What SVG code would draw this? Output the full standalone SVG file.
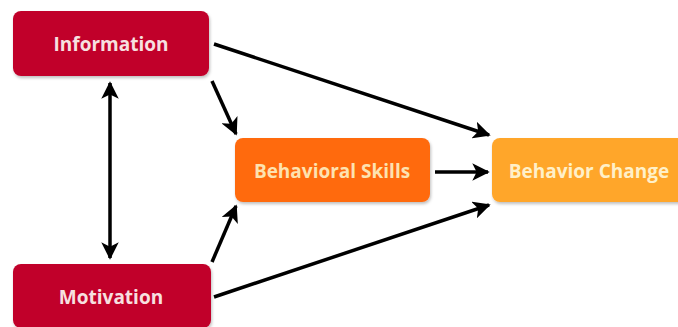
<svg xmlns="http://www.w3.org/2000/svg" width="678" height="327" viewBox="0 0 678 327">
<defs>
<marker id="ah" viewBox="0 0 10 10" refX="9" refY="5" markerWidth="5" markerHeight="5" orient="auto-start-reverse" markerUnits="strokeWidth">
<path d="M0,0 L10,5 L0,10 L2.5,5 z" fill="#000"/>
</marker>
<filter id="sh" x="-10%" y="-10%" width="120%" height="130%">
<feDropShadow dx="1" dy="2" stdDeviation="1.5" flood-color="#000" flood-opacity="0.25"/>
</filter>
</defs>
<style>
.box{filter:url(#sh)}
.t{font-family:"Open Sans","DejaVu Sans",sans-serif;font-weight:bold;font-size:19px;text-anchor:middle;dominant-baseline:central}
.c{stroke:#000;stroke-width:3.5;fill:none;marker-end:url(#ah)}
</style>
<rect width="678" height="327" fill="#fff"/>
<g id="information">
<rect class="box" x="13" y="11" width="196" height="65" rx="8" fill="#c1002a"/>
<text class="t" x="111" y="44" fill="#f7e0e0">Information</text>
</g>
<g id="motivation">
<rect class="box" x="13" y="264" width="198" height="64" rx="8" fill="#c1002a"/>
<text class="t" x="111" y="297" fill="#f7e0e0">Motivation</text>
</g>
<g id="behavioral-skills">
<rect class="box" x="235" y="138" width="195" height="64" rx="8" fill="#ff6a10"/>
<text class="t" x="332" y="171" fill="#fde2b0">Behavioral Skills</text>
</g>
<g id="behavior-change">
<rect class="box" x="492" y="138" width="200" height="64" rx="8" fill="#ffa62b"/>
<text class="t" x="589" y="171" fill="#fff0c8">Behavior Change</text>
</g>
<g id="connectors">
<path class="c" d="M214,44 L489,135"/>
<path class="c" d="M212,81 L236,134"/>
<path class="c" d="M110,83 L110,258" style="marker-start:url(#ah)"/>
<path class="c" d="M212,262 L236,206"/>
<path class="c" d="M214,297 L489,205"/>
<path class="c" d="M435,172 L488,172"/>
</g>
</svg>
